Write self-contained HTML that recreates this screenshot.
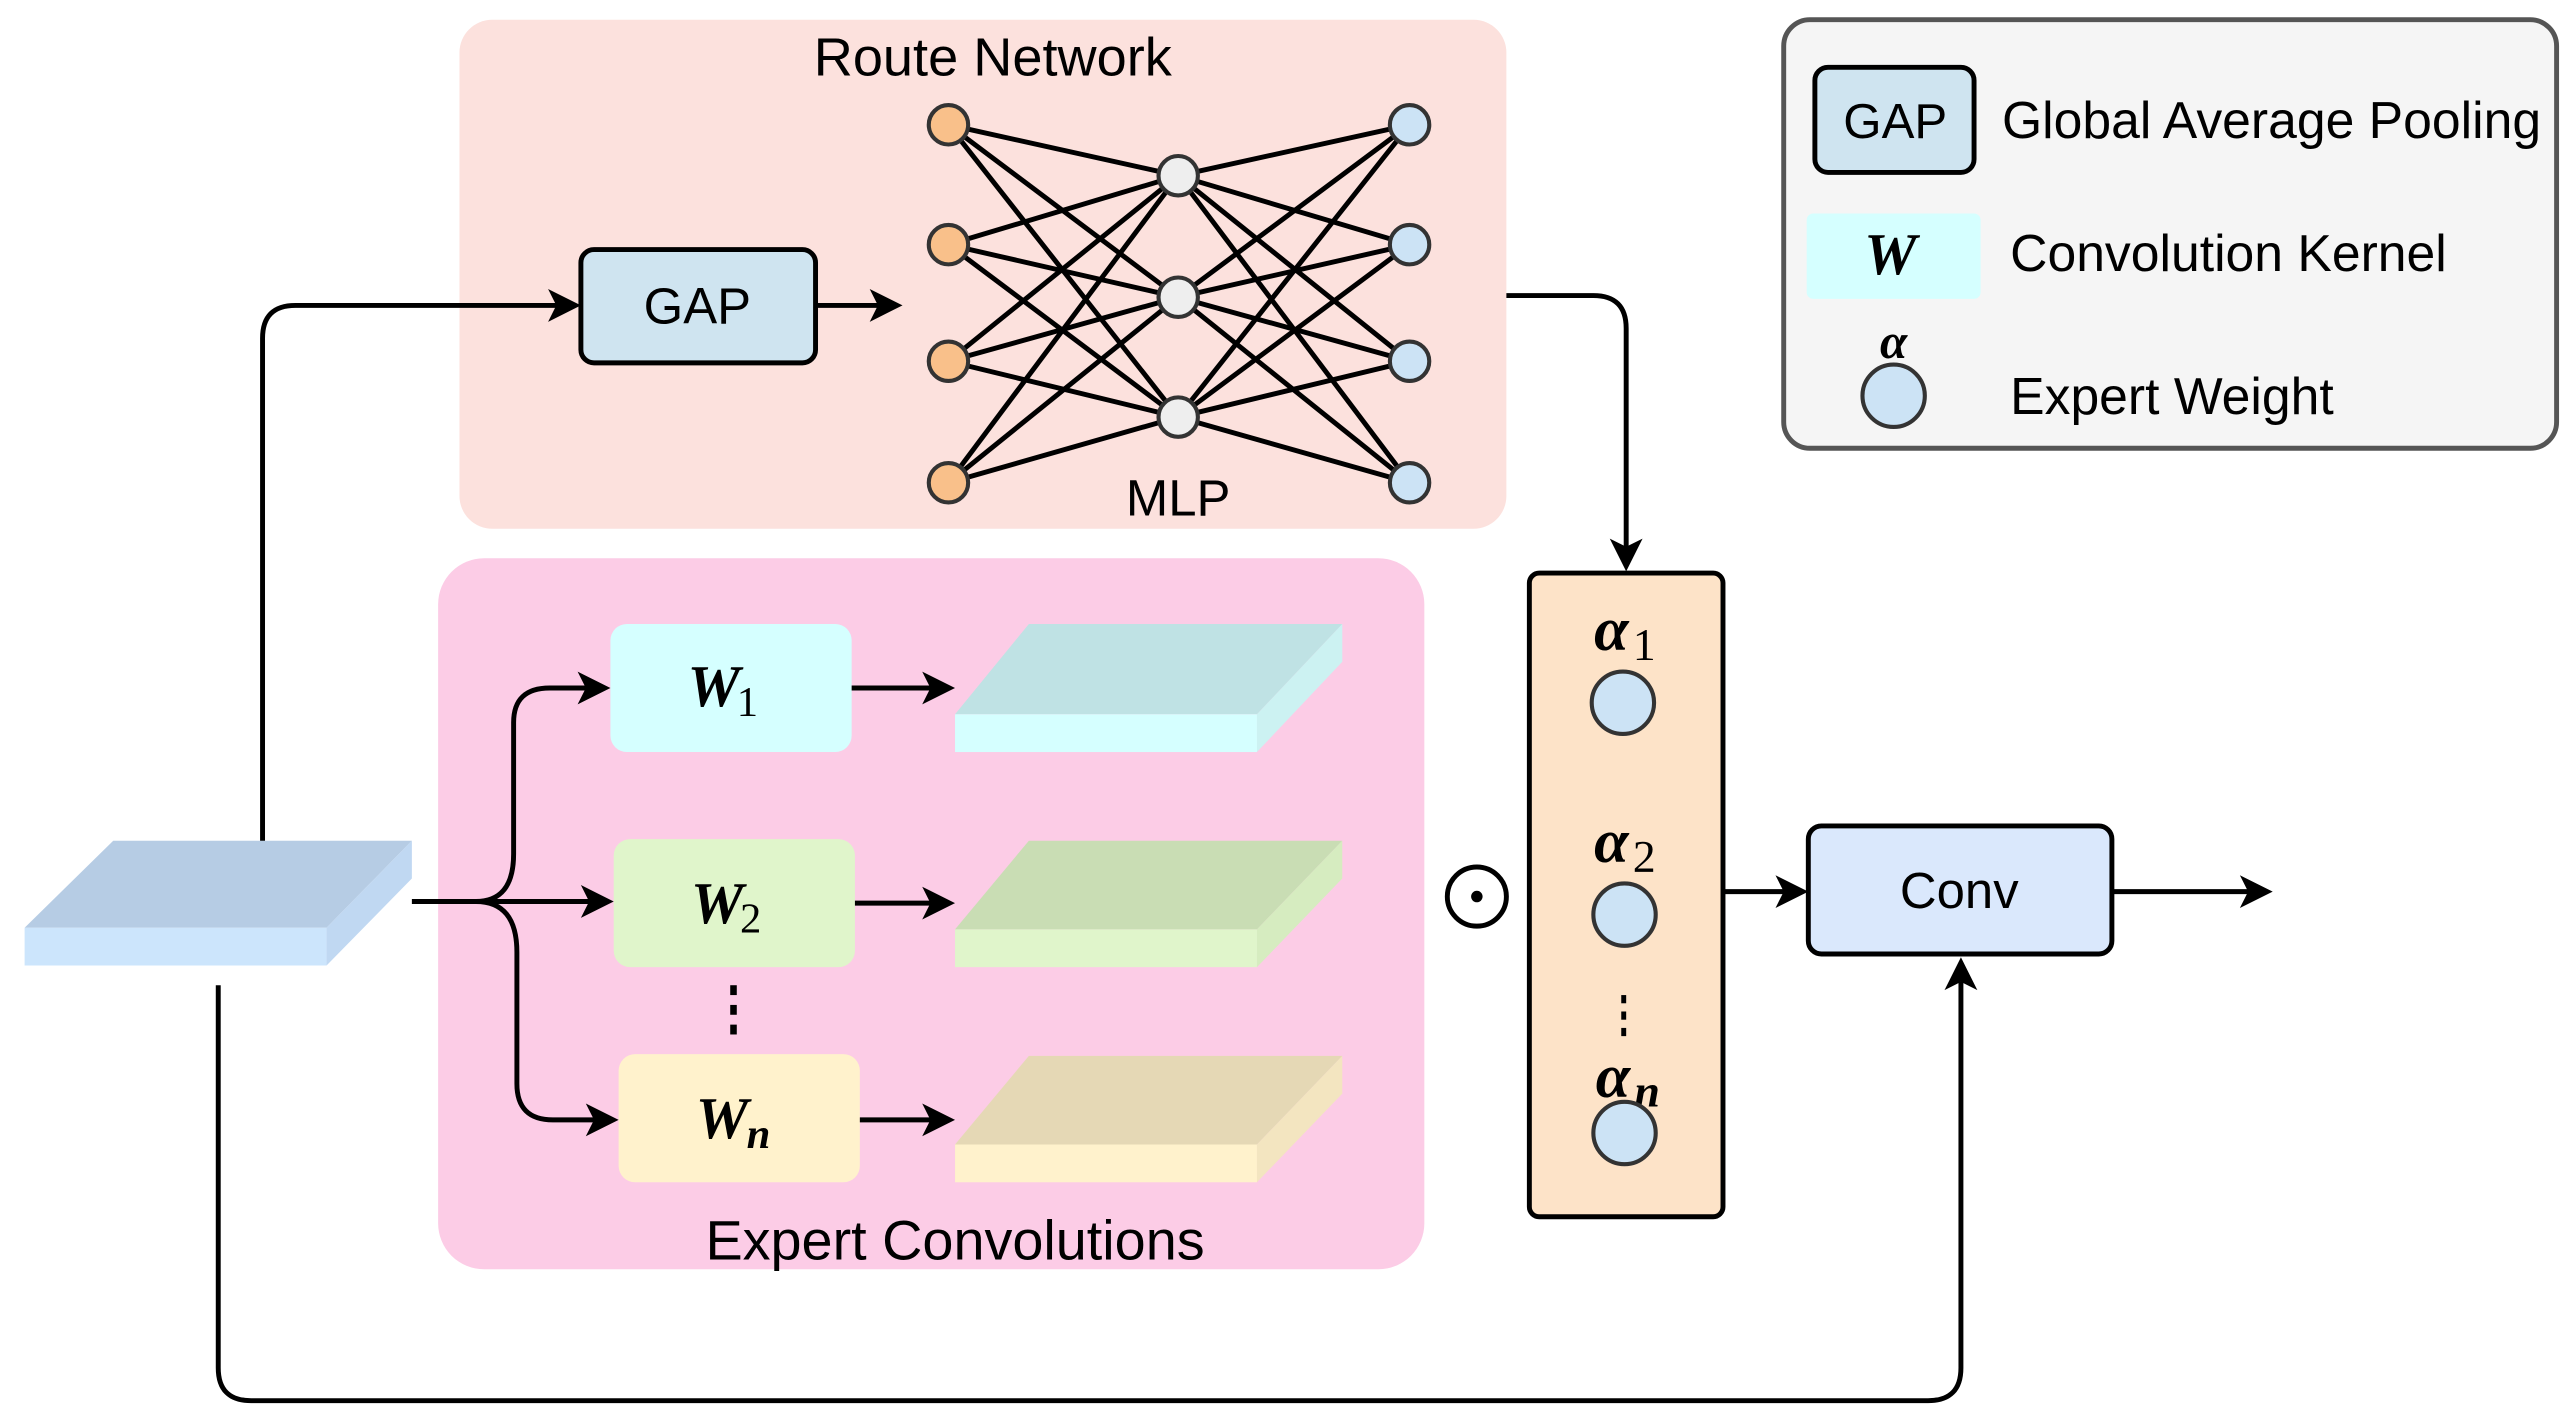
<!DOCTYPE html>
<html><head><meta charset="utf-8"><style>html,body{margin:0;padding:0;background:#fff}svg{display:block}</style></head>
<body>
<svg width="2573" height="1422" viewBox="0 0 1568 866" preserveAspectRatio="none" xmlns="http://www.w3.org/2000/svg" font-family="Liberation Sans, sans-serif">
<style>
.l{stroke:#000;stroke-width:3;fill:none}
.m{font-family:"Liberation Serif",serif;font-style:italic;font-weight:bold}
.s{font-family:"Liberation Serif",serif}
</style>
<!-- Route Network -->
<rect x="280" y="12" width="638" height="310" rx="20" fill="#fce1dd"/>
<text x="605" y="46" font-size="33" text-anchor="middle">Route Network</text>
<rect x="354" y="152" width="143" height="69" rx="8" fill="#cfe4f0" stroke="#000" stroke-width="3"/>
<text x="425" y="197" font-size="31" text-anchor="middle">GAP</text>
<path class="l" d="M497 186 H536"/><path d="M550 186 L530 176 L535 186 L530 196 Z"/>
<g stroke="#000" stroke-width="3">
<line x1="578" y1="76" x2="718" y2="107"/><line x1="578" y1="76" x2="718" y2="181"/><line x1="578" y1="76" x2="718" y2="254"/>
<line x1="578" y1="149" x2="718" y2="107"/><line x1="578" y1="149" x2="718" y2="181"/><line x1="578" y1="149" x2="718" y2="254"/>
<line x1="578" y1="220" x2="718" y2="107"/><line x1="578" y1="220" x2="718" y2="181"/><line x1="578" y1="220" x2="718" y2="254"/>
<line x1="578" y1="294" x2="718" y2="107"/><line x1="578" y1="294" x2="718" y2="181"/><line x1="578" y1="294" x2="718" y2="254"/>
<line x2="859" y2="76" x1="718" y1="107"/><line x2="859" y2="76" x1="718" y1="181"/><line x2="859" y2="76" x1="718" y1="254"/>
<line x2="859" y2="149" x1="718" y1="107"/><line x2="859" y2="149" x1="718" y1="181"/><line x2="859" y2="149" x1="718" y1="254"/>
<line x2="859" y2="220" x1="718" y1="107"/><line x2="859" y2="220" x1="718" y1="181"/><line x2="859" y2="220" x1="718" y1="254"/>
<line x2="859" y2="294" x1="718" y1="107"/><line x2="859" y2="294" x1="718" y1="181"/><line x2="859" y2="294" x1="718" y1="254"/>
</g>
<g stroke="#333" stroke-width="2.5">
<circle cx="578" cy="76" r="12" fill="#f9c08a"/><circle cx="578" cy="149" r="12" fill="#f9c08a"/><circle cx="578" cy="220" r="12" fill="#f9c08a"/><circle cx="578" cy="294" r="12" fill="#f9c08a"/>
<circle cx="718" cy="107" r="12" fill="#eeeeee"/><circle cx="718" cy="181" r="12" fill="#eeeeee"/><circle cx="718" cy="254" r="12" fill="#eeeeee"/>
<circle cx="859" cy="76" r="12" fill="#cce3f5"/><circle cx="859" cy="149" r="12" fill="#cce3f5"/><circle cx="859" cy="220" r="12" fill="#cce3f5"/><circle cx="859" cy="294" r="12" fill="#cce3f5"/>
</g>
<text x="718" y="314" font-size="31" text-anchor="middle">MLP</text>

<!-- Expert Convolutions -->
<rect x="267" y="340" width="601" height="433" rx="28" fill="#fccce6"/>
<text x="582" y="767" font-size="34" text-anchor="middle">Expert Convolutions</text>
<rect x="372" y="380" width="147" height="78" rx="10" fill="#d5ffff"/>
<rect x="374" y="511" width="147" height="78" rx="10" fill="#e0f5cb"/>
<rect x="377" y="642" width="147" height="78" rx="10" fill="#fff2cc"/>
<text x="435" y="430" font-size="36" class="m" text-anchor="middle">W</text><text x="449" y="436" font-size="26" class="s">1</text>
<text x="437" y="562" font-size="36" class="m" text-anchor="middle">W</text><text x="451" y="568" font-size="26" class="s">2</text>
<text x="440" y="693" font-size="36" class="m" text-anchor="middle">W</text><text x="455" y="699" font-size="26" class="m">n</text>
<g fill="#000"><rect x="445" y="600" width="4" height="6"/><rect x="445" y="612" width="4" height="6"/><rect x="445" y="624" width="4" height="6"/></g>
<!-- slabs -->
<g>
<polygon points="582,435 627,380 818,380 766,435" fill="#bfe2e4"/><rect x="582" y="435" width="184" height="23" fill="#d5ffff"/><polygon points="766,435 818,380 818,403 766,458" fill="#ccf2f2"/>
<polygon points="582,566 627,512 818,512 766,566" fill="#c9ddb4"/><rect x="582" y="566" width="184" height="23" fill="#e0f5cb"/><polygon points="766,566 818,512 818,535 766,589" fill="#d6ecc0"/>
<polygon points="582,697 627,643 818,643 766,697" fill="#e5d8b5"/><rect x="582" y="697" width="184" height="23" fill="#fff2cc"/><polygon points="766,697 818,643 818,666 766,720" fill="#f3e5c0"/>
<polygon points="15,565 69,512 251,512 199,565" fill="#b6cce4"/><rect x="15" y="565" width="184" height="23" fill="#cce5fc"/><polygon points="199,565 251,512 251,535 199,588" fill="#c0d8f2"/>
</g>
<!-- connectors -->
<path class="l" d="M160 512 V206 Q160 186 180 186 H340"/><path d="M354 186 L334 176 L339 186 L334 196 Z"/>
<path class="l" d="M133 600 V833 Q133 853 153 853 H1175 Q1195 853 1195 833 V598"/><path d="M1195 583 L1185 603 L1195 598 L1205 603 Z"/>
<path class="l" d="M251 549 H360"/><path d="M374 549 L354 539 L359 549 L354 559 Z"/>
<path class="l" d="M290 549 Q313 549 313 520 V440 Q313 419 335 419 H358"/><path d="M372 419 L352 409 L357 419 L352 429 Z"/>
<path class="l" d="M290 549 Q315 549 315 580 V660 Q315 682 337 682 H363"/><path d="M377 682 L357 672 L362 682 L357 692 Z"/>
<path class="l" d="M519 419 H568"/><path d="M582 419 L562 409 L567 419 L562 429 Z"/>
<path class="l" d="M521 550 H568"/><path d="M582 550 L562 540 L567 550 L562 560 Z"/>
<path class="l" d="M524 682 H568"/><path d="M582 682 L562 672 L567 682 L562 692 Z"/>
<path class="l" d="M918 180 H971 Q991 180 991 200 V334"/><path d="M991 348 L981 328 L991 333 L1001 328 Z"/>
<circle cx="900" cy="546" r="18" fill="none" stroke="#000" stroke-width="3"/><circle cx="900" cy="546" r="3.5" fill="#000"/>
<!-- alpha box -->
<rect x="932" y="349" width="118" height="392" rx="6" fill="#fde3c8" stroke="#000" stroke-width="3"/>
<text x="982" y="396" font-size="38" class="m" text-anchor="middle">α</text><text x="995" y="402" font-size="28" class="s">1</text>
<text x="982" y="525" font-size="38" class="m" text-anchor="middle">α</text><text x="995" y="531" font-size="28" class="s">2</text>
<text x="983" y="668" font-size="38" class="m" text-anchor="middle">α</text><text x="996" y="674" font-size="28" class="m">n</text>
<g fill="#000"><rect x="988" y="606" width="3" height="5"/><rect x="988" y="616" width="3" height="5"/><rect x="988" y="626" width="3" height="5"/></g>
<g stroke="#333" stroke-width="2.5" fill="#cce3f5"><circle cx="989" cy="428" r="19"/><circle cx="990" cy="557" r="19"/><circle cx="990" cy="690" r="19"/></g>
<path class="l" d="M1050 543 H1088"/><path d="M1102 543 L1082 533 L1087 543 L1082 553 Z"/>
<rect x="1102" y="503" width="185" height="78" rx="8" fill="#dae8fc" stroke="#000" stroke-width="3"/>
<text x="1194" y="553" font-size="31" text-anchor="middle">Conv</text>
<path class="l" d="M1287 543 H1371"/><path d="M1385 543 L1365 533 L1370 543 L1365 553 Z"/>
<!-- legend -->
<rect x="1087" y="12" width="471" height="261" rx="16" fill="#f5f5f5" stroke="#555" stroke-width="3"/>
<rect x="1106" y="41" width="97" height="64" rx="8" fill="#cfe4f0" stroke="#000" stroke-width="3"/>
<text x="1155" y="84" font-size="30" text-anchor="middle">GAP</text>
<text x="1220" y="84" font-size="31.5">Global Average Pooling</text>
<rect x="1101" y="130" width="106" height="52" rx="4" fill="#d5ffff"/>
<text x="1152" y="167" font-size="36" class="m" text-anchor="middle">W</text>
<text x="1225" y="165" font-size="31.5">Convolution Kernel</text>
<text x="1154" y="218" font-size="30" class="m" text-anchor="middle">α</text>
<circle cx="1154" cy="241" r="19" fill="#cce3f5" stroke="#333" stroke-width="2.5"/>
<text x="1225" y="252" font-size="31.5">Expert Weight</text>
</svg>
</body></html>
